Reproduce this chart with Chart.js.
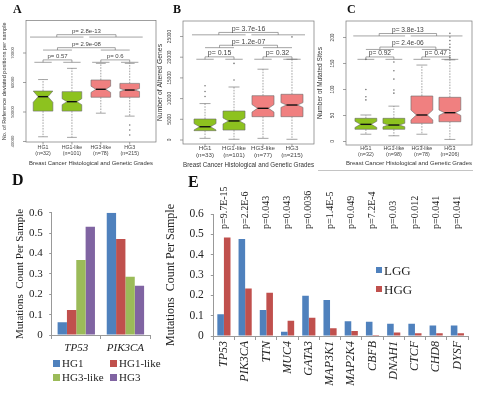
<!DOCTYPE html>
<html>
<head>
<meta charset="utf-8">
<title>Breast cancer grades</title>
<script src="https://cdn.jsdelivr.net/npm/chart.js@4.4.1/dist/chart.umd.min.js"></script>
<style>
  body { margin: 0; background: #fff; }
  #page { position: relative; width: 477px; height: 393px; overflow: hidden; background: #fff; }
  canvas { position: absolute; }
  .tag { position: absolute; font-family: 'Liberation Serif', serif; font-weight: bold; line-height: 1; color: #111; }
  .legend { position: absolute; font-family: 'Liberation Serif', serif; color: #222; }
  .legend .item { display: flex; align-items: center; white-space: nowrap; }
  .legend .sw { display: inline-block; margin-right: 2px; }
  #legendD { left: 53px; top: 357px; display: grid; grid-template-columns: 57px 57px; font-size: 11px; line-height: 13.5px; }
  #legendD .sw { width: 7px; height: 7px; }
  #legendE { left: 376px; top: 260.5px; font-size: 13px; line-height: 19px; }
  #legendE .sw { width: 6px; height: 6px; }
  #rule { position: absolute; left: 318px; top: 170px; width: 155px; height: 1px; background: #c4c4c4; }
</style>
</head>
<body>
<div id="page">
  <canvas id="chartA" width="160" height="172" style="left:0;top:0"></canvas>
  <canvas id="chartB" width="168" height="172" style="left:155px;top:0"></canvas>
  <canvas id="chartC" width="162" height="172" style="left:315px;top:0"></canvas>
  <canvas id="chartD" width="160" height="165" style="left:0;top:195px"></canvas>
  <canvas id="chartE" width="317" height="218" style="left:160px;top:175px"></canvas>

  <div class="tag" style="left:13px;top:3px;font-size:12px">A</div>
  <div class="tag" style="left:173px;top:3px;font-size:12px">B</div>
  <div class="tag" style="left:347px;top:3px;font-size:12px">C</div>
  <div class="tag" style="left:12px;top:172px;font-size:16px">D</div>
  <div class="tag" style="left:188px;top:174px;font-size:16px">E</div>
  <div id="rule"></div>

  <div class="legend" id="legendD"></div>
  <div class="legend" id="legendE"></div>
</div>

<script>
// ---- data ----
const grades = ['HG1', 'HG1-like', 'HG3-like', 'HG3'];
const gradeColors = ['#8dc21f', '#8dc21f', '#f08080', '#f08080'];

// A: reference deviated positions per sample
const nA = [32, 101, 78, 215];
const lowA = [41600, 41400, 49600, 48600];
const q1A = [50300, 50300, 55000, 55000];
const medA = [55200, 53500, 57700, 57450];
const q3A = [57100, 56900, 60850, 59700];
const highA = [61000, 64800, 66500, 66500];
const notchLoA = [53300, 52500, 56650, 56950];
const notchHiA = [57100, 54500, 58750, 57950];
const outA = [[], [], [], [45600, 43900, 42200]];
const ticksA = [40000, 50000, 60000, 70000];
const pA = ['p= 0.57', 'p= 0.6', 'p= 2.9e-08', 'p= 2.8e-13'];
const pLevelA = [66850, 66850, 71000, 75400];

// B: altered genes
const nB = [33, 101, 77, 215];
const lowB = [400, 170, 400, 170];
const q1B = [2250, 2400, 5630, 5630];
const medB = [3200, 4600, 7650, 8450];
const q3B = [5070, 7000, 10700, 11040];
const highB = [8800, 12800, 17100, 19500];
const notchLoB = [2430, 3880, 6740, 7870];
const notchHiB = [3970, 5320, 8560, 9030];
const outB = [[10500, 11700, 13100], [14500, 18500], [], [24900]];
const ticksB = [0, 5000, 10000, 15000, 20000, 25000];
const pB = ['p= 0.15', 'p= 0.32', 'p= 1.2e-07', 'p= 3.7e-16'];
const pLevelB = [19500, 19500, 22300, 25400];

// C: mutated sites
const nC = [32, 98, 78, 206];
const lowC = [14, 11, 14, 4];
const q1C = [23.5, 23.5, 35, 38];
const medC = [33, 31.7, 51, 55.4];
const q3C = [44.6, 44.6, 87.5, 85];
const highC = [51, 68, 147, 157];
const notchLoC = [27, 28.3, 41.6, 50.2];
const notchHiC = [39, 35.1, 60.4, 60.6];
const outC = [[80, 86, 100, 158], [93, 99, 120, 136, 153], [], [161, 165, 170, 175, 181, 187, 194, 201, 208]];
const ticksC = [0, 50, 100, 150, 200];
const pC = ['p= 0.92', 'p= 0.47', 'p= 2.4e-06', 'p= 3.8e-13'];
const pLevelC = [158, 158, 177, 203];

// D: mutations per sample by grade
const genesD = ['TP53', 'PIK3CA'];
const hg1D = [0.062, 0.6];
const hg1LikeD = [0.123, 0.471];
const hg3LikeD = [0.368, 0.286];
const hg3D = [0.531, 0.242];

// E: LGG vs HGG
const genesE = ['TP53', 'PIK3CA', 'TTN', 'MUC4', 'GATA3', 'MAP3K1', 'MAP2K4', 'CBFB', 'DNAH1', 'CTCF', 'CHD8', 'DYSF'];
const lggE = [0.107, 0.477, 0.128, 0.021, 0.198, 0.177, 0.072, 0.07, 0.06, 0.06, 0.052, 0.052];
const hggE = [0.484, 0.234, 0.213, 0.075, 0.09, 0.038, 0.025, 0.005, 0.017, 0.013, 0.013, 0.013];
const pE = ['p=9.7E-15', 'p=2.2E-6', 'p=0.043', 'p=0.043', 'p=0.0036', 'p=1.4E-5', 'p=0.049', 'p=7.2E-4', 'p=0.03', 'p=0.012', 'p=0.041', 'p=0.041'];

// which groups each p-value bracket joins (group units)
const bracketArms = [
  [[-0.3, 0.3], [0.7, 1.3]],
  [[1.7, 2.3], [2.7, 3.3]],
  [[0, 1], [2, 3]],
  [[-0.45, 1.4], [1.6, 3.45]]
];

const sans = "'Liberation Sans', Arial, sans-serif";
const serif = "'Liberation Serif', 'Times New Roman', serif";
Chart.defaults.font.family = sans;

// notched boxes, frame, rotated y ticks and p brackets
function boxPlugin(b, look) {
  return {
    id: 'boxes',
    beforeDatasetsDraw(chart) {
      const { ctx, scales: { x, y } } = chart;
      const Y = v => y.getPixelForValue(v);
      ctx.save();
      for (let i = 0; i < b.med.length; i++) {
        const xc = x.getPixelForValue(i);
        const w = x.getPixelForValue(i + look.bw) - xc;
        const nw = w * 0.5;
        const cw = w * 0.5;
        // whiskers
        ctx.strokeStyle = '#666';
        ctx.lineWidth = 0.6;
        ctx.setLineDash([1.6, 1.2]);
        ctx.beginPath();
        ctx.moveTo(xc, Y(b.q3[i])); ctx.lineTo(xc, Y(b.high[i]));
        ctx.moveTo(xc, Y(b.q1[i])); ctx.lineTo(xc, Y(b.low[i]));
        ctx.stroke();
        ctx.setLineDash([]);
        ctx.beginPath();
        ctx.moveTo(xc - cw, Y(b.high[i])); ctx.lineTo(xc + cw, Y(b.high[i]));
        ctx.moveTo(xc - cw, Y(b.low[i])); ctx.lineTo(xc + cw, Y(b.low[i]));
        ctx.stroke();
        // box with notch
        ctx.beginPath();
        ctx.moveTo(xc - w, Y(b.q3[i])); ctx.lineTo(xc + w, Y(b.q3[i]));
        ctx.lineTo(xc + w, Y(b.nhi[i])); ctx.lineTo(xc + nw, Y(b.med[i]));
        ctx.lineTo(xc + w, Y(b.nlo[i])); ctx.lineTo(xc + w, Y(b.q1[i]));
        ctx.lineTo(xc - w, Y(b.q1[i])); ctx.lineTo(xc - w, Y(b.nlo[i]));
        ctx.lineTo(xc - nw, Y(b.med[i])); ctx.lineTo(xc - w, Y(b.nhi[i]));
        ctx.closePath();
        ctx.fillStyle = gradeColors[i];
        ctx.fill();
        ctx.strokeStyle = '#6a6a6a';
        ctx.stroke();
        // median
        ctx.lineWidth = 1.4;
        ctx.strokeStyle = '#111';
        ctx.beginPath();
        ctx.moveTo(xc - nw, Y(b.med[i])); ctx.lineTo(xc + nw, Y(b.med[i]));
        ctx.stroke();
      }
      ctx.restore();
    },
    afterDraw(chart) {
      const { ctx, chartArea: a, scales: { x, y } } = chart;
      ctx.save();
      ctx.strokeStyle = '#777';
      ctx.lineWidth = 0.7;
      ctx.strokeRect(a.left, a.top, a.right - a.left, a.bottom - a.top);
      ctx.fillStyle = '#444';
      ctx.font = look.tickFont + 'px ' + sans;
      y.ticks.forEach(t => {
        const py = y.getPixelForValue(t.value);
        ctx.beginPath(); ctx.moveTo(a.left - 3, py); ctx.lineTo(a.left, py); ctx.stroke();
        ctx.save();
        ctx.translate(a.left - look.tickGap, py);
        ctx.rotate(-Math.PI / 2);
        ctx.textAlign = 'center';
        ctx.textBaseline = 'middle';
        ctx.fillText(String(t.value), 0, 0);
        ctx.restore();
      });
      x.ticks.forEach(t => {
        const px = x.getPixelForValue(t.value);
        ctx.beginPath(); ctx.moveTo(px, a.bottom); ctx.lineTo(px, a.bottom + 2.5); ctx.stroke();
      });
      // p-value brackets
      ctx.strokeStyle = '#666';
      ctx.lineWidth = 0.6;
      ctx.font = look.pFont + 'px ' + sans;
      ctx.textAlign = 'center';
      ctx.textBaseline = 'alphabetic';
      b.p.forEach((label, k) => {
        const arms = bracketArms[k];
        const yl = y.getPixelForValue(b.pLevel[k]);
        const yc = yl - 2.4;
        const c1 = x.getPixelForValue((arms[0][0] + arms[0][1]) / 2);
        const c2 = x.getPixelForValue((arms[1][0] + arms[1][1]) / 2);
        ctx.beginPath();
        arms.forEach(r => {
          ctx.moveTo(x.getPixelForValue(r[0]), yl);
          ctx.lineTo(x.getPixelForValue(r[1]), yl);
        });
        ctx.moveTo(c1, yl); ctx.lineTo(c1, yc); ctx.lineTo(c2, yc); ctx.lineTo(c2, yl);
        ctx.stroke();
        ctx.fillText(label, (c1 + c2) / 2, yc - 1.6);
      });
      ctx.restore();
    }
  };
}

function boxChart(id, b, look) {
  const points = [];
  b.out.forEach((list, i) => list.forEach(v => points.push({ x: i, y: v })));
  return new Chart(document.getElementById(id), {
    type: 'scatter',
    data: { datasets: [{ data: points, pointRadius: 0.8, pointBackgroundColor: '#777', pointBorderWidth: 0 }] },
    options: {
      responsive: false, animation: false, devicePixelRatio: 1,
      layout: { padding: { left: 0, top: look.top, right: look.W - look.right, bottom: 0 } },
      plugins: { legend: { display: false }, tooltip: { enabled: false } },
      scales: {
        x: {
          type: 'linear', min: look.xMin, max: look.xMax,
          afterBuildTicks: s => { s.ticks = grades.map((g, i) => ({ value: i })); },
          afterFit: s => { s.height = look.H - look.bottom; },
          grid: { display: false, drawTicks: false, tickLength: 0 },
          border: { display: false },
          ticks: {
            autoSkip: false, maxRotation: 0, padding: look.catPad, color: '#444',
            font: { size: look.catFont, lineHeight: 1.15 },
            callback: v => [grades[v], '(n=' + b.n[v] + ')']
          },
          title: {
            display: true, text: 'Breast Cancer Histological and Genetic Grades', color: '#333',
            font: { size: look.titleFont }, padding: { top: 0, bottom: look.titlePad }
          }
        },
        y: {
          min: look.yMin, max: look.yMax,
          afterBuildTicks: s => { s.ticks = b.ticks.map(v => ({ value: v })); },
          afterFit: s => { s.width = look.left; },
          grid: { display: false, drawTicks: false, tickLength: 0 },
          border: { display: false },
          ticks: { display: false },
          title: {
            display: true, text: look.yTitle, color: '#333',
            font: { size: look.yTitleFont }, padding: { top: 1, bottom: 0 }
          }
        }
      }
    },
    plugins: [boxPlugin(b, look)]
  });
}

boxChart('chartA',
  { n: nA, low: lowA, q1: q1A, med: medA, q3: q3A, high: highA, nlo: notchLoA, nhi: notchHiA, out: outA, ticks: ticksA, p: pA, pLevel: pLevelA },
  { xMin: -0.59, xMax: 3.91, yMin: 39830, yMax: 81020, left: 26, top: 20.5, right: 157, bottom: 142, W: 160, H: 172,
    bw: 0.34, tickFont: 4.2, catFont: 5.3, catPad: 2.5, titleFont: 5.9, titlePad: 5.5, yTitleFont: 5.6, pFont: 6, tickGap: 13,
    yTitle: 'No. of Reference deviated positions per sample' });

boxChart('chartB',
  { n: nB, low: lowB, q1: q1B, med: medB, q3: q3B, high: highB, nlo: notchLoB, nhi: notchHiB, out: outB, ticks: ticksB, p: pB, pLevel: pLevelB },
  { xMin: -0.76, xMax: 3.76, yMin: -966, yMax: 28740, left: 28, top: 21, right: 159, bottom: 144, W: 168, H: 172,
    bw: 0.38, tickFont: 4.8, catFont: 6.2, catPad: 1, titleFont: 6.8, titlePad: 3, yTitleFont: 6.8, pFont: 7, tickGap: 13,
    yTitle: 'Number of Altered Genes' });

boxChart('chartC',
  { n: nC, low: lowC, q1: q1C, med: medC, q3: q3C, high: highC, nlo: notchLoC, nhi: notchHiC, out: outC, ticks: ticksC, p: pC, pLevel: pLevelC },
  { xMin: -0.71, xMax: 3.79, yMin: -6.7, yMax: 231.7, left: 31, top: 21, right: 157, bottom: 145, W: 162, H: 172,
    bw: 0.39, tickFont: 4.8, catFont: 5.4, catPad: 0.5, titleFont: 6.1, titlePad: 5, yTitleFont: 6.5, pFont: 6.6, tickGap: 13,
    yTitle: 'Number of Mutated Sites' });

// legend boxes in html, from the datasets
function htmlLegend(chart, el) {
  chart.data.datasets.forEach(ds => {
    const item = document.createElement('div');
    item.className = 'item';
    const sw = document.createElement('span');
    sw.className = 'sw';
    sw.style.background = ds.backgroundColor;
    item.appendChild(sw);
    item.appendChild(document.createTextNode(ds.label));
    el.appendChild(item);
  });
}

const tickFmt = v => (v === 0 ? '0' : v.toFixed(1));

const chartD = new Chart(document.getElementById('chartD'), {
  type: 'bar',
  data: {
    labels: genesD,
    datasets: [
      { label: 'HG1', data: hg1D, backgroundColor: '#4f81bd' },
      { label: 'HG1-like', data: hg1LikeD, backgroundColor: '#c0504d' },
      { label: 'HG3-like', data: hg3LikeD, backgroundColor: '#9bbb59' },
      { label: 'HG3', data: hg3D, backgroundColor: '#8064a2' }
    ]
  },
  options: {
    responsive: false, animation: false, devicePixelRatio: 1,
    layout: { padding: { top: 17.7, right: 10, left: 0, bottom: 0 } },
    datasets: { bar: { categoryPercentage: 0.76, barPercentage: 1, borderWidth: 0 } },
    plugins: { legend: { display: false }, tooltip: { enabled: false } },
    scales: {
      x: {
        grid: { offset: true, drawOnChartArea: false, tickLength: 4, color: '#999' },
        border: { color: '#999' },
        ticks: { padding: 3, color: '#222', font: { family: serif, style: 'italic', size: 11 } },
        afterFit: s => { s.height = 25; }
      },
      y: {
        min: 0, max: 0.6,
        ticks: { stepSize: 0.1, padding: 6.5, color: '#222', font: { family: serif, size: 11 }, callback: tickFmt },
        grid: { drawOnChartArea: false, tickLength: 2.5, color: '#999' },
        border: { color: '#999' },
        title: { display: true, text: 'Mutations  Count Per Sample', color: '#222', font: { family: serif, size: 11 }, padding: { top: 14, bottom: 0 } },
        afterFit: s => { s.width = 51.7; }
      }
    }
  }
});
htmlLegend(chartD, document.getElementById('legendD'));

// rotated p-values above the gene bars
const pLabelPlugin = {
  id: 'pLabels',
  afterDatasetsDraw(chart) {
    const { ctx, chartArea: a, scales: { x } } = chart;
    ctx.save();
    ctx.font = '10px ' + serif;
    ctx.fillStyle = '#222';
    ctx.textAlign = 'left';
    ctx.textBaseline = 'middle';
    pE.forEach((t, i) => {
      ctx.save();
      ctx.translate(x.getPixelForValue(i), a.top + 15);
      ctx.rotate(-Math.PI / 2);
      ctx.fillText(t, 0, 0);
      ctx.restore();
    });
    ctx.restore();
  }
};

const chartE = new Chart(document.getElementById('chartE'), {
  type: 'bar',
  data: {
    labels: genesE,
    datasets: [
      { label: 'LGG', data: lggE, backgroundColor: '#4f81bd' },
      { label: 'HGG', data: hggE, backgroundColor: '#c0504d' }
    ]
  },
  options: {
    responsive: false, animation: false, devicePixelRatio: 1,
    layout: { padding: { top: 39, right: 9, left: 0, bottom: 0 } },
    datasets: { bar: { categoryPercentage: 0.62, barPercentage: 1, borderWidth: 0 } },
    plugins: { legend: { display: false }, tooltip: { enabled: false } },
    scales: {
      x: {
        grid: { offset: true, drawOnChartArea: false, tickLength: 4, color: '#999' },
        border: { color: '#999' },
        ticks: { minRotation: 90, maxRotation: 90, autoSkip: false, padding: 1, color: '#222', font: { family: serif, style: 'italic', size: 12 } },
        afterFit: s => { s.height = 57; }
      },
      y: {
        min: 0, max: 0.6,
        ticks: { stepSize: 0.1, padding: 7, color: '#222', font: { family: serif, size: 11.5 }, callback: tickFmt },
        grid: { drawOnChartArea: false, tickLength: 2.5, color: '#999' },
        border: { color: '#999' },
        title: { display: true, text: 'Mutations  Count Per Sample', color: '#222', font: { family: serif, size: 12 }, padding: { top: 3.8, bottom: 0 } },
        afterFit: s => { s.width = 53.3; }
      }
    }
  },
  plugins: [pLabelPlugin]
});
htmlLegend(chartE, document.getElementById('legendE'));
</script>
</body>
</html>
